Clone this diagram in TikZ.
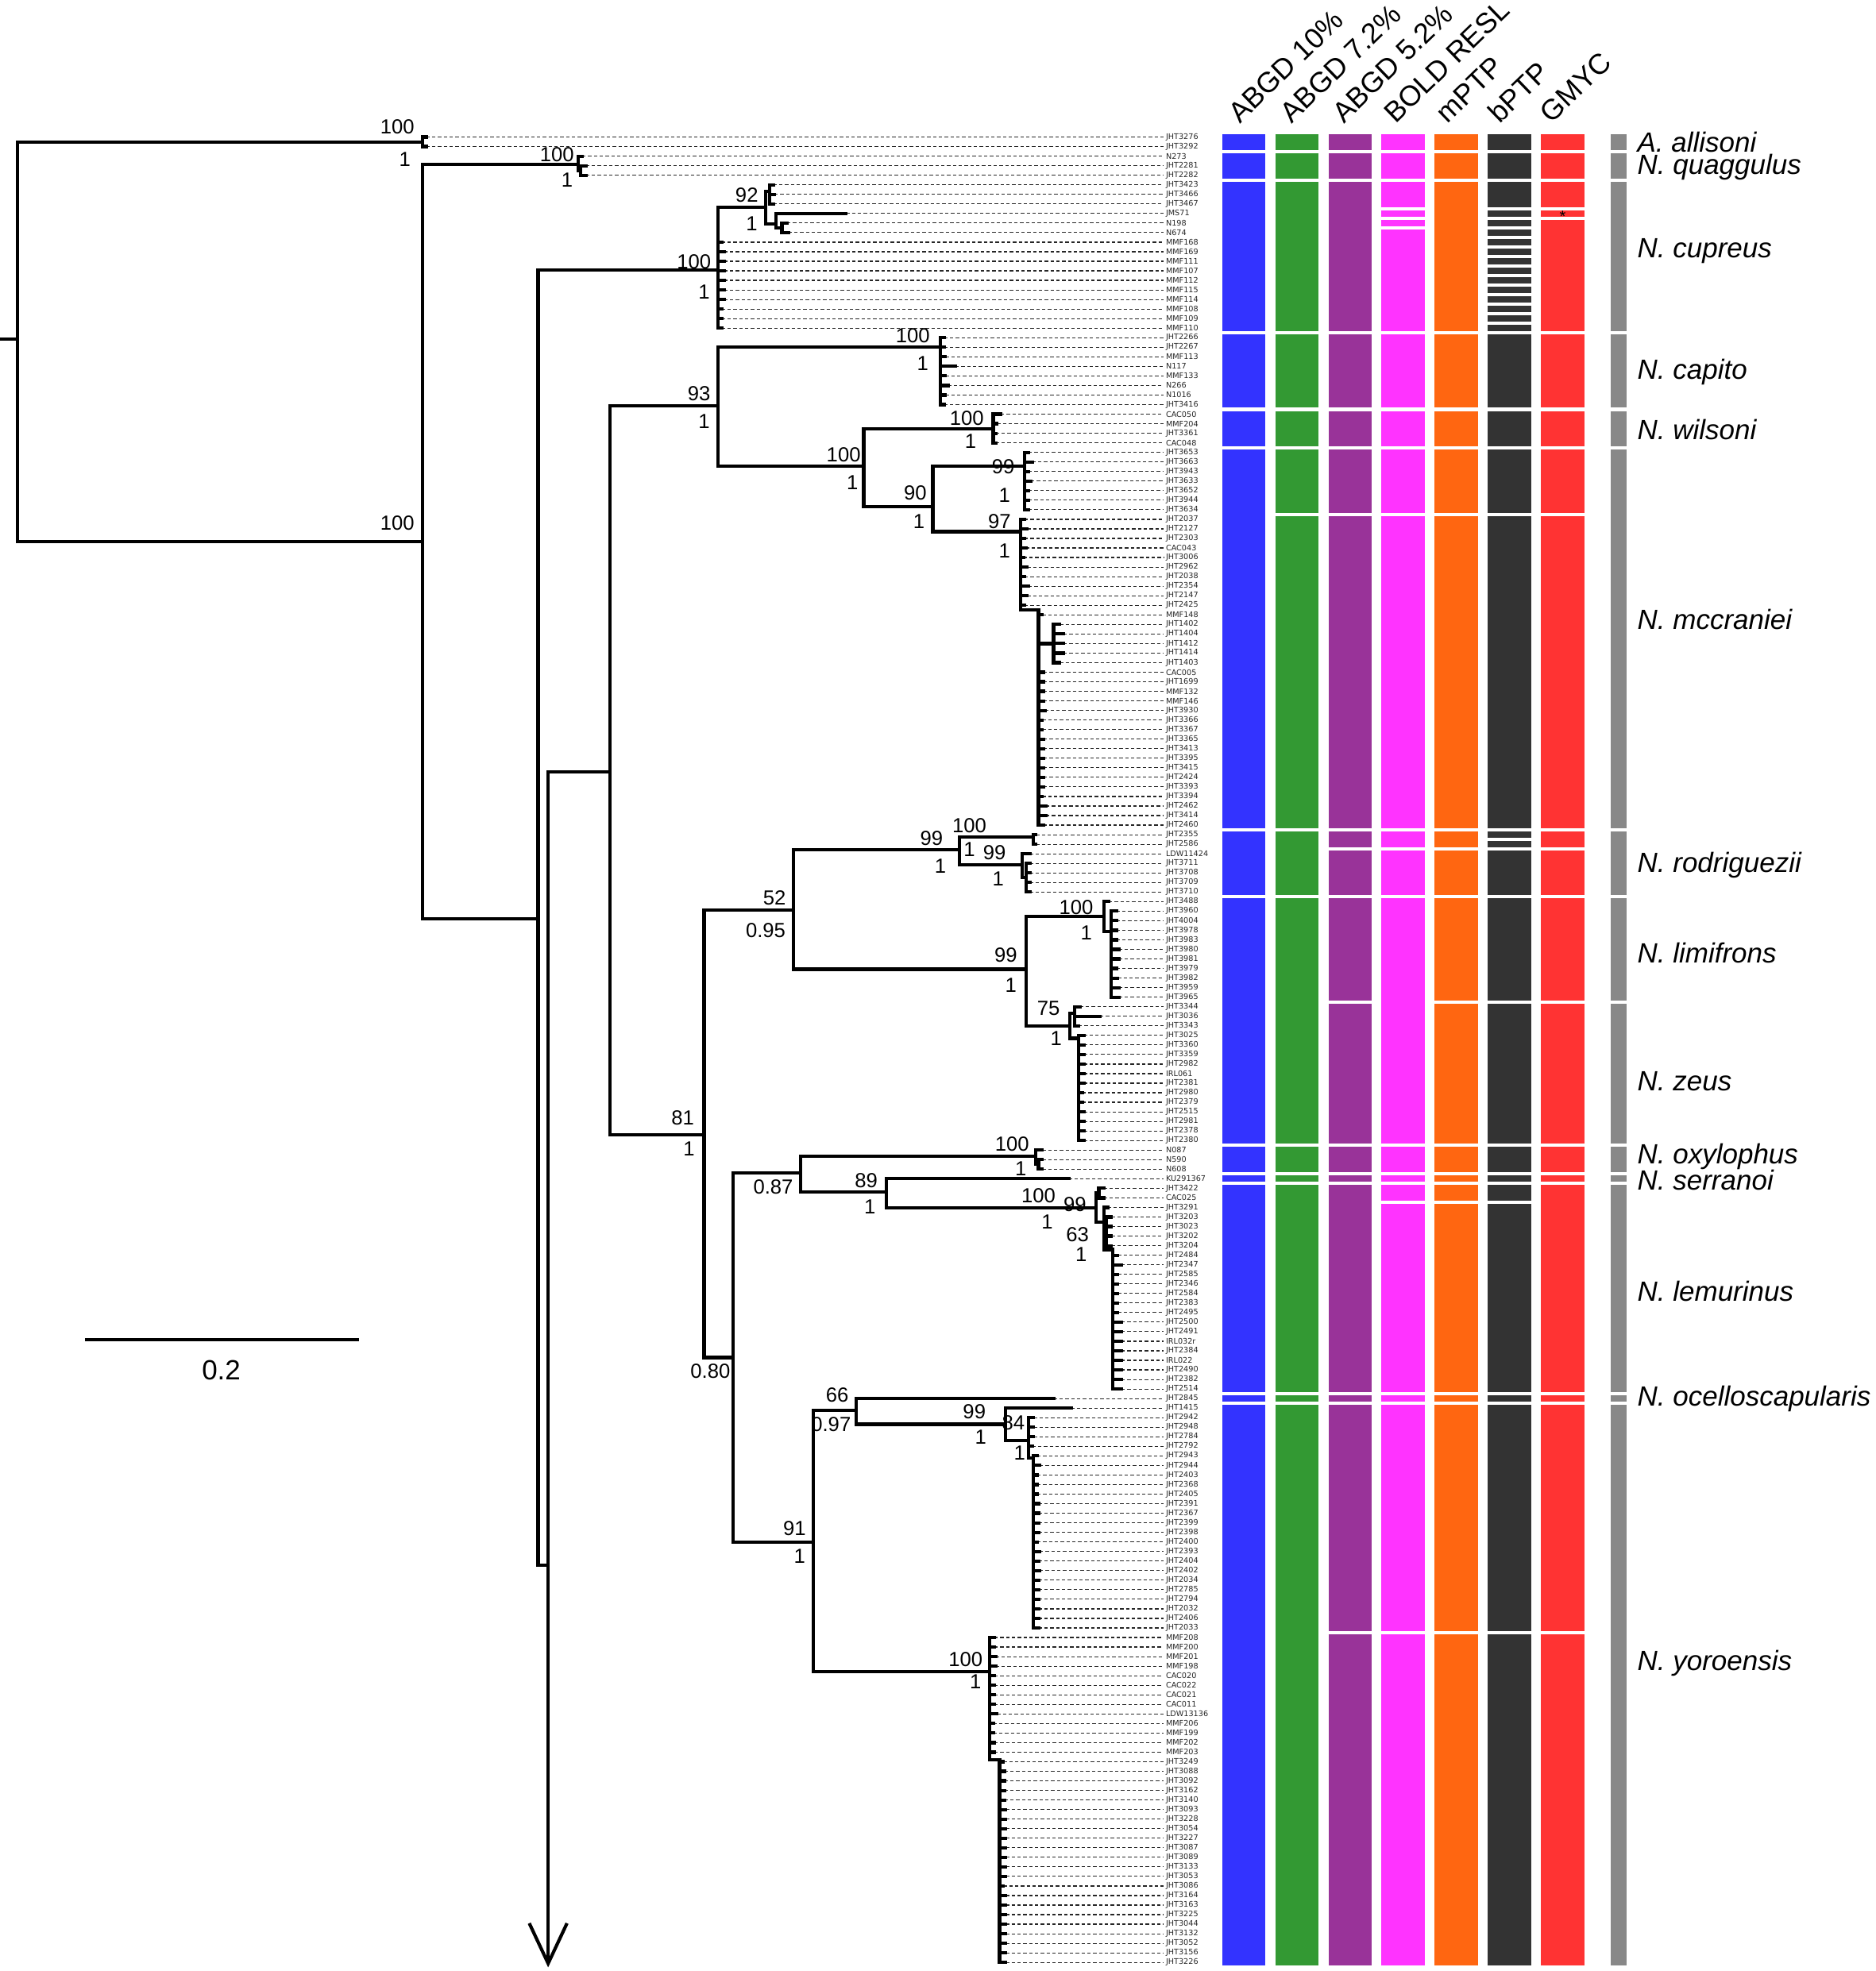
\documentclass[tikz,border=0pt]{standalone}
\usepackage{fontspec}
\setmainfont{Liberation Sans}
\newfontfamily\tipfont{DejaVu Sans}
\definecolor{cblue}{RGB}{51,51,255}
\definecolor{cgreen}{RGB}{51,153,51}
\definecolor{cpurple}{RGB}{153,51,153}
\definecolor{cmag}{RGB}{255,51,255}
\definecolor{corange}{RGB}{255,102,17}
\definecolor{cdark}{RGB}{51,51,51}
\definecolor{cred}{RGB}{255,51,51}
\definecolor{cgrey}{RGB}{136,136,136}
\newcommand\colblk[4]{\fill[#1] (#2,{109+(#3-1)*7.603-2.5}) rectangle ({#2+34.5},{109+(#4-1)*7.603+2.5});}
\begin{document}
\begin{tikzpicture}[x=0.47475pt,y=-0.47475pt,
  br/.style={line width=1.25pt, line cap=rect},
  tipdash/.style={line width=0.35pt, dash pattern=on 1.3pt off 0.9pt, black!85},
  tiplab/.style={anchor=west, inner sep=0pt, font=\tipfont\fontsize{2.9}{3}\selectfont, text=black!85},
  suplab/.style={font=\fontsize{7.7}{8}\selectfont, inner sep=0pt},
  hdr/.style={font=\fontsize{10.8}{12}\selectfont, anchor=base west, rotate=44, inner sep=0pt},
  spl/.style={font=\itshape\fontsize{10.5}{12}\selectfont, anchor=west, inner sep=0pt}]
\useasboundingbox (0,0) rectangle (1492,1568);
\fill[white] (0,0) rectangle (1492,1568);

% ---------- column headers
\foreach \t [count=\k from 0] in {ABGD 10\%, ABGD 7.2\%, ABGD 5.2\%, BOLD RESL, mPTP, bPTP, GMYC}
  \node[hdr] (h\k) at ({986+41.3*\k}, 99) {\t};

% ---------- delimitation bars
\foreach \a/\b in {1/2,3/5,6/21,22/29,30/33,34/73,74/80,81/106,107/109,110/110,111/132,133/133,134/192}
  {\colblk{cblue}{972}{\a}{\b}}
\foreach \a/\b in {1/2,3/5,6/21,22/29,30/33,34/40,41/73,74/80,81/106,107/109,110/110,111/132,133/133,134/192}
  {\colblk{cgreen}{1014.3}{\a}{\b}}
\foreach \a/\b in {1/2,3/5,6/21,22/29,30/33,34/40,41/73,74/75,76/80,81/91,92/106,107/109,110/110,111/132,133/133,134/157,158/192}
  {\colblk{cpurple}{1056.6}{\a}{\b}}
\foreach \a/\b in {1/2,3/5,6/8,9/9,10/10,11/21,22/29,30/33,34/40,41/73,74/75,76/80,81/106,107/109,110/110,111/112,113/132,133/133,134/157,158/192}
  {\colblk{cmag}{1098.9}{\a}{\b}}
\foreach \a/\b in {1/2,3/5,6/21,22/29,30/33,34/40,41/73,74/75,76/80,81/91,92/106,107/109,110/110,111/112,113/132,133/133,134/157,158/192}
  {\colblk{corange}{1141.2}{\a}{\b}}
\foreach \a/\b in {1/2,3/5,6/8,9/9,10/10,11/11,12/12,13/13,14/14,15/15,16/16,17/17,18/18,19/19,20/20,21/21,22/29,30/33,34/40,41/73,74/74,75/75,76/80,81/91,92/106,107/109,110/110,111/112,113/132,133/133,134/157,158/192}
  {\colblk{cdark}{1183.5}{\a}{\b}}
\foreach \a/\b in {1/2,3/5,6/8,9/9,10/21,22/29,30/33,34/40,41/73,74/75,76/80,81/91,92/106,107/109,110/110,111/132,133/133,134/157,158/192}
  {\colblk{cred}{1225.8}{\a}{\b}}
\node[inner sep=0pt, font=\fontsize{6}{6}\selectfont] (ast) at (1243,172) {*};
\foreach \a/\b in {1/2,3/5,6/21,22/29,30/33,34/73,74/80,81/91,92/106,107/109,110/110,111/132,133/133,134/192}
  {\fill[cgrey] (1281,{109+(\a-1)*7.603-2.5}) rectangle (1293.5,{109+(\b-1)*7.603+2.5});}

% ---------- species names
\node[spl] (sA) at (1302,113) {A. allisoni};
\node[spl] (sB) at (1302,133) {N. quaggulus};
\node[spl] (sC) at (1302,200) {N. cupreus};
\node[spl] (sD) at (1302,296) {N. capito};
\node[spl] (sE) at (1302,342) {N. wilsoni};
\node[spl] (sF) at (1302,493) {N. mccraniei};
\node[spl] (sG) at (1302,688) {N. rodriguezii};
\node[spl] (sH) at (1302,758) {N. limifrons};
\node[spl] (sI) at (1302,860) {N. zeus};
\node[spl] (sJ) at (1302,920) {N. oxylophus};
\node[spl] (sK) at (1302,939) {N. serranoi};
\node[spl] (sL) at (1302,1027) {N. lemurinus};
\node[spl] (sM) at (1302,1113) {N. ocelloscapularis};
\node[spl] (sN) at (1302,1323) {N. yoroensis};

% ---------- tips: label / parent x / tip x
\foreach \lab/\nx/\tx [count=\i] in {JHT3276/336/339, JHT3292/336/339, N273/460/463, JHT2281/462/466, JHT2282/462/466, JHT3423/612/615, JHT3466/612/616, JHT3467/612/615, JMS71/617/673, N198/622/626, N674/622/627, MMF168/571/574, MMF169/571/576, MMF111/571/576, MMF107/571/576, MMF112/571/576, MMF115/571/576, MMF114/571/576, MMF108/571/574, MMF109/571/574, MMF110/571/574, JHT2266/748/751, JHT2267/748/751, MMF113/748/752, N117/748/760, MMF133/748/752, N266/748/754, N1016/748/752, JHT3416/748/751, CAC050/790/796, MMF204/790/793, JHT3361/790/792, CAC048/790/792, JHT3653/815/818, JHT3663/815/821, JHT3943/815/818, JHT3633/815/820, JHT3652/815/818, JHT3944/815/818, JHT3634/815/818, JHT2037/812/815, JHT2127/812/817, JHT2303/812/815, CAC043/812/816, JHT3006/812/814, JHT2962/812/817, JHT2038/812/815, JHT2354/812/818, JHT2147/812/817, JHT2425/812/815, MMF148/826/829, JHT1402/838/843, JHT1404/838/846, JHT1412/838/846, JHT1414/838/846, JHT1403/838/843, CAC005/826/830, JHT1699/826/830, MMF132/826/830, MMF146/826/830, JHT3930/826/831, JHT3366/826/829, JHT3367/826/829, JHT3365/826/830, JHT3413/826/830, JHT3395/826/830, JHT3415/826/830, JHT2424/826/830, JHT3393/826/830, JHT3394/826/829, JHT2462/826/832, JHT3414/826/832, JHT2460/826/830, JHT2355/822/824, JHT2586/822/824, LDW11424/813/819, JHT3711/816/819, JHT3708/816/819, JHT3709/816/819, JHT3710/816/819, JHT3488/878/882, JHT3960/884/888, JHT4004/884/888, JHT3978/884/888, JHT3983/884/888, JHT3980/884/890, JHT3981/884/890, JHT3979/884/888, JHT3982/884/889, JHT3959/884/890, JHT3965/884/890, JHT3344/855/859, JHT3036/855/875, JHT3343/855/858, JHT3025/858/862, JHT3360/858/862, JHT3359/858/862, JHT2982/858/862, IRL061/858/862, JHT2381/858/862, JHT2980/858/861, JHT2379/858/861, JHT2515/858/862, JHT2981/858/862, JHT2378/858/862, JHT2380/858/862, N087/824/829, N590/826/829, N608/826/829, KU291367/705/850, JHT3422/874/878, CAC025/874/878, JHT3291/878/881, JHT3203/880/884, JHT3023/880/884, JHT3202/880/884, JHT3204/880/884, JHT2484/885/889, JHT2347/885/892, JHT2585/885/889, JHT2346/885/889, JHT2584/885/889, JHT2383/885/889, JHT2495/885/889, JHT2500/885/892, JHT2491/885/892, IRL032r/885/892, JHT2384/885/892, IRL022/885/892, JHT2490/885/892, JHT2382/885/892, JHT2514/885/892, JHT2845/681/838, JHT1415/800/852, JHT2942/818/822, JHT2948/818/822, JHT2784/818/822, JHT2792/818/821, JHT2943/822/825, JHT2944/822/827, JHT2403/822/825, JHT2368/822/825, JHT2405/822/825, JHT2391/822/826, JHT2367/822/826, JHT2399/822/826, JHT2398/822/826, JHT2400/822/825, JHT2393/822/827, JHT2404/822/826, JHT2402/822/827, JHT2034/822/826, JHT2785/822/826, JHT2794/822/826, JHT2032/822/826, JHT2406/822/826, JHT2033/822/826, MMF208/787/791, MMF200/787/791, MMF201/787/792, MMF198/787/792, CAC020/787/791, CAC022/787/791, CAC021/787/791, CAC011/787/791, LDW13136/787/793, MMF206/787/790, MMF199/787/790, MMF202/787/791, MMF203/787/791, JHT3249/795/798, JHT3088/795/799, JHT3092/795/799, JHT3162/795/799, JHT3140/795/799, JHT3093/795/800, JHT3228/795/800, JHT3054/795/800, JHT3227/795/800, JHT3087/795/800, JHT3089/795/800, JHT3133/795/800, JHT3053/795/800, JHT3086/795/798, JHT3164/795/800, JHT3163/795/800, JHT3225/795/800, JHT3044/795/800, JHT3132/795/800, JHT3052/795/800, JHT3156/795/800, JHT3226/795/800}
{
  \pgfmathsetmacro\yy{109+(\i-1)*7.603}
  \node[tiplab] (t\i) at (927,\yy) {\lab};
  \draw[tipdash] (\tx,\yy) -- ([xshift=-0.8pt]t\i.west);
  \draw[br] (\nx,\yy) -- (\tx,\yy);
}

% ---------- tree
\draw[br] (0,270) -- (14,270);
\draw[br] (14,113) -- (14,431);
\draw[br] (14,113) -- (336,113);
\draw[br] (336,109) -- (336,116.6);
\draw[br] (14,431) -- (336,431);
\draw[br] (336,131) -- (336,731);
\draw[br] (336,131) -- (460,131);
\draw[br] (460,124.2) -- (460,135.6) -- (462,135.6);
\draw[br] (462,131.8) -- (462,139.4);
\draw[br] (336,731) -- (428,731);
\draw[br] (428,215) -- (428,1245);
\draw[br] (428,215) -- (571,215);
\draw[br] (571,165) -- (571,261.1);
\draw[br] (571,165) -- (609,165);
\draw[br] (609,152) -- (609,178);
\draw[br] (609,152) -- (612,152);
\draw[br] (612,147) -- (612,162.2);
\draw[br] (609,178) -- (617,178);
\draw[br] (617,169.8) -- (617,181.2) -- (622,181.2);
\draw[br] (622,177.4) -- (622,185);
\draw[br] (428,1245) -- (436,1245);
\draw[br] (436,614) -- (436,1558);
\draw[line width=1.25pt, line join=miter] (421,1530) -- (436,1562) -- (451,1530);
\draw[br] (436,614) -- (485,614);
\draw[br] (485,323) -- (485,903);
\draw[br] (485,323) -- (571,323);
\draw[br] (571,276) -- (571,371);
\draw[br] (571,276) -- (748,276);
\draw[br] (748,268.7) -- (748,321.9);
\draw[br] (571,371) -- (687,371);
\draw[br] (687,341) -- (687,403);
\draw[br] (687,341) -- (790,341);
\draw[br] (790,329.5) -- (790,352.3);
\draw[br] (687,403) -- (742,403);
\draw[br] (742,371) -- (742,423);
\draw[br] (742,371) -- (815,371);
\draw[br] (815,359.9) -- (815,405.5);
\draw[br] (742,423) -- (812,423);
\draw[br] (812,413.1) -- (812,485) -- (826,485);
\draw[br] (826,485) -- (826,656.4);
\draw[br] (826,512) -- (838,512);
\draw[br] (838,496.8) -- (838,527.2);
\draw[br] (485,903) -- (560,903);
\draw[br] (560,724) -- (560,1080);
\draw[br] (560,724) -- (631,724);
\draw[br] (631,676) -- (631,771);
\draw[br] (631,676) -- (763,676);
\draw[br] (763,666) -- (763,688);
\draw[br] (763,666) -- (822,666);
\draw[br] (822,664) -- (822,671.6);
\draw[br] (763,688) -- (813,688);
\draw[br] (813,679.2) -- (813,698.2) -- (816,698.2);
\draw[br] (816,686.8) -- (816,709.6);
\draw[br] (631,771) -- (816,771);
\draw[br] (816,729) -- (816,816);
\draw[br] (816,729) -- (878,729);
\draw[br] (878,717.2) -- (878,741) -- (884,741);
\draw[br] (884,724.8) -- (884,793.3);
\draw[br] (816,816) -- (851,816);
\draw[br] (851,806) -- (851,826);
\draw[br] (851,806) -- (855,806);
\draw[br] (855,800.9) -- (855,816.1);
\draw[br] (851,826) -- (858,826);
\draw[br] (858,823.7) -- (858,907.3);
\draw[br] (560,1080) -- (583,1080);
\draw[br] (583,933) -- (583,1227);
\draw[br] (583,933) -- (637,933);
\draw[br] (637,920) -- (637,948);
\draw[br] (637,920) -- (824,920);
\draw[br] (824,914.9) -- (824,926.3) -- (826,926.3);
\draw[br] (826,922.5) -- (826,930.1);
\draw[br] (637,948) -- (705,948);
\draw[br] (705,937.7) -- (705,961);
\draw[br] (705,961) -- (872,961);
\draw[br] (872,949.1) -- (872,972);
\draw[br] (872,949.1) -- (874,949.1);
\draw[br] (874,945.3) -- (874,952.9);
\draw[br] (872,972) -- (878,972);
\draw[br] (878,960.5) -- (878,994);
\draw[br] (878,979.5) -- (880,979.5);
\draw[br] (880,968.1) -- (880,990.9);
\draw[br] (878,994) -- (885,994);
\draw[br] (885,994) -- (885,1105);
\draw[br] (583,1227) -- (647,1227);
\draw[br] (647,1122) -- (647,1330);
\draw[br] (647,1122) -- (681,1122);
\draw[br] (681,1112.6) -- (681,1133);
\draw[br] (681,1133) -- (800,1133);
\draw[br] (800,1120.2) -- (800,1146);
\draw[br] (800,1146) -- (818,1146);
\draw[br] (818,1127.8) -- (818,1160) -- (822,1160);
\draw[br] (822,1158.2) -- (822,1295);
\draw[br] (647,1330) -- (787,1330);
\draw[br] (787,1302.7) -- (787,1400) -- (795,1400);
\draw[br] (795,1400) -- (795,1561.2);

% ---------- support values
\foreach \v/\x/\y [count=\n] in {100/316/101, 1/322/127, 100/443/123, 1/451/143, 100/316/416,
  92/594/155, 1/598/178, 100/552/208, 1/560/232, 100/726/267, 1/734/289, 93/556/313, 1/560/335,
  100/769/333, 1/772/351, 100/671/362, 1/678/384, 99/798/371, 1/799/394, 90/728/392, 1/731/415,
  97/795/415, 1/799/438, 99/741/667, 100/771/657, 1/748/689, 1/771/676, 99/791/678, 1/794/699,
  52/616/714, 0.95/609/740, 100/856/722, 1/864/742, 99/800/760, 1/804/784, 75/834/802, 1/840/826,
  81/543/889, 1/548/914, 100/805/910, 1/812/930, 0.87/615/944, 89/689/939, 1/692/960,
  100/826/951, 99/855/958, 1/833/972, 63/857/982, 1/860/998, 0.80/565/1091,
  66/666/1110, 0.97/661/1133, 99/775/1123, 1/780/1143, 84/806/1132, 1/811/1156,
  91/632/1216, 1/636/1238, 100/768/1320, 1/776/1338}
  \node[suplab] (s\n) at (\x,\y) {\v};

% ---------- scale bar
\coordinate (sb1) at (69,1066);
\coordinate (sb2) at (284,1066);
\draw[br] (sb1) -- (sb2);
\node[font=\fontsize{10.5}{12}\selectfont, inner sep=0pt] (sbl) at (176,1090) {0.2};
\end{tikzpicture}
\end{document}
